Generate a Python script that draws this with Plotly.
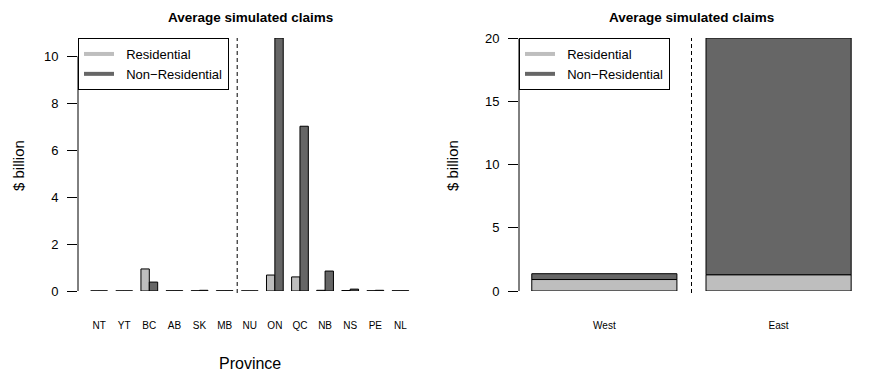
import plotly.graph_objects as go

provinces = ['NT', 'YT', 'BC', 'AB', 'SK', 'MB', 'NU', 'ON', 'QC', 'NB', 'NS', 'PE', 'NL']
res_prov = [0.005, 0.005, 0.94, 0.01, 0.01, 0.01, 0.005, 0.68, 0.60, 0.03, 0.02, 0.01, 0.01]
nonres_prov = [0.005, 0.005, 0.38, 0.01, 0.03, 0.01, 0.005, 10.78, 7.02, 0.85, 0.08, 0.03, 0.01]

regions = ['West', 'East']
res_reg = [0.91, 1.29]
nonres_reg = [0.46, 18.76]

light = '#BEBEBE'
dark = '#666666'

# the page body has an 8px margin, so the figure is drawn 16px smaller
# and every pixel position below is given in window coordinates
OFF = 8
W, H = 882 - 2 * OFF, 392 - 2 * OFF


def px_x(p):
    return (p - OFF) / W


def px_y(p):
    return 1 - (p - OFF) / H


fig = go.Figure()

# left: by province, side by side
fig.add_trace(go.Bar(x=provinces, y=res_prov, marker=dict(color=light, line=dict(color='black', width=1)),
                     showlegend=False, xaxis='x', yaxis='y'))
fig.add_trace(go.Bar(x=provinces, y=nonres_prov, marker=dict(color=dark, line=dict(color='black', width=1)),
                     showlegend=False, xaxis='x', yaxis='y'))

# right: west / east, stacked
fig.add_trace(go.Bar(x=regions, y=res_reg, width=0.833, offset=-0.4167,
                     marker=dict(color=light, line=dict(color='black', width=1)),
                     showlegend=False, xaxis='x2', yaxis='y2'))
fig.add_trace(go.Bar(x=regions, y=nonres_reg, base=res_reg, width=0.833, offset=-0.4167,
                     marker=dict(color=dark, line=dict(color='black', width=1)),
                     showlegend=False, xaxis='x2', yaxis='y2'))

# legend entries drawn as lines, like the R legend
for name, col in [('\u00a0\u00a0Residential', light), ('\u00a0\u00a0Non\u2212Residential', dark)]:
    fig.add_trace(go.Scatter(x=[None], y=[None], mode='lines', name=name,
                             line=dict(color=col, width=4), xaxis='x', yaxis='y', legend='legend'))
    fig.add_trace(go.Scatter(x=[None], y=[None], mode='lines', name=name,
                             line=dict(color=col, width=4), xaxis='x2', yaxis='y2', legend='legend2'))

ydom = [px_y(291), px_y(38)]
yaxis_common = dict(showgrid=False, zeroline=False, showline=False, ticks='outside', ticklen=10,
                    tickcolor='black', tickfont=dict(size=13, color='black'), automargin=False,
                    ticklabelstandoff=6)
xaxis_common = dict(showgrid=False, zeroline=False, showline=False, ticks='outside', ticklen=25,
                    tickcolor='rgba(0,0,0,0)', tickfont=dict(size=10, color='black'), automargin=False)

legend_common = dict(xanchor='left', yanchor='top', bgcolor='white', bordercolor='black',
                     borderwidth=1, font=dict(size=13, color='black'), itemwidth=30,
                     tracegroupgap=0)

dash = '4px,3px'

fig.update_layout(
    width=W, height=H, autosize=False,
    margin=dict(l=0, r=0, t=0, b=0, pad=0, autoexpand=False),
    plot_bgcolor='white', paper_bgcolor='white',
    font=dict(family='Liberation Sans, Arial, sans-serif', color='black'),
    barmode='group', bargap=1/3, bargroupgap=0,
    xaxis=dict(domain=[px_x(78), px_x(421.5)], range=[-0.84, 12.84], **xaxis_common),
    yaxis=dict(domain=ydom, range=[0, 10.78], tickvals=[0, 2, 4, 6, 8, 10], anchor='x', **yaxis_common),
    xaxis2=dict(domain=[px_x(519), px_x(864)], range=[-0.49, 1.49], anchor='y2', **xaxis_common),
    yaxis2=dict(domain=ydom, range=[0, 20.05], tickvals=[0, 5, 10, 15, 20], anchor='x2', **yaxis_common),
    legend=dict(x=px_x(78), y=px_y(38), **legend_common),
    legend2=dict(x=px_x(519), y=px_y(38), **legend_common),
    shapes=[
        dict(type='line', xref='x domain', x0=0, x1=0, yref='y', y0=0, y1=10, line=dict(color='black', width=1)),
        dict(type='line', xref='x2 domain', x0=0, x1=0, yref='y2', y0=0, y1=20, line=dict(color='black', width=1)),
        dict(type='line', xref='x', x0=5.5, x1=5.5, yref='paper', y0=px_y(293), y1=px_y(38),
             line=dict(color='black', width=1, dash=dash)),
        dict(type='line', xref='x2', x0=0.5, x1=0.5, yref='paper', y0=px_y(293), y1=px_y(38),
             line=dict(color='black', width=1, dash=dash)),
    ],
    annotations=[
        dict(text='<b>Average simulated claims</b>', x=px_x(250), y=px_y(18), xref='paper', yref='paper',
             xanchor='center', yanchor='middle', showarrow=False, font=dict(size=13.5)),
        dict(text='<b>Average simulated claims</b>', x=px_x(691), y=px_y(18), xref='paper', yref='paper',
             xanchor='center', yanchor='middle', showarrow=False, font=dict(size=13.5)),
        dict(text='Province', x=px_x(250), y=px_y(363), xref='paper', yref='paper',
             xanchor='center', yanchor='middle', showarrow=False, font=dict(size=16)),
        dict(text='$ billion', x=px_x(18), y=px_y(166), xref='paper', yref='paper', textangle=-90,
             xanchor='center', yanchor='middle', showarrow=False, font=dict(size=15)),
        dict(text='$ billion', x=px_x(452), y=px_y(166), xref='paper', yref='paper', textangle=-90,
             xanchor='center', yanchor='middle', showarrow=False, font=dict(size=15)),
    ],
)

fig.write_html("out.html")
